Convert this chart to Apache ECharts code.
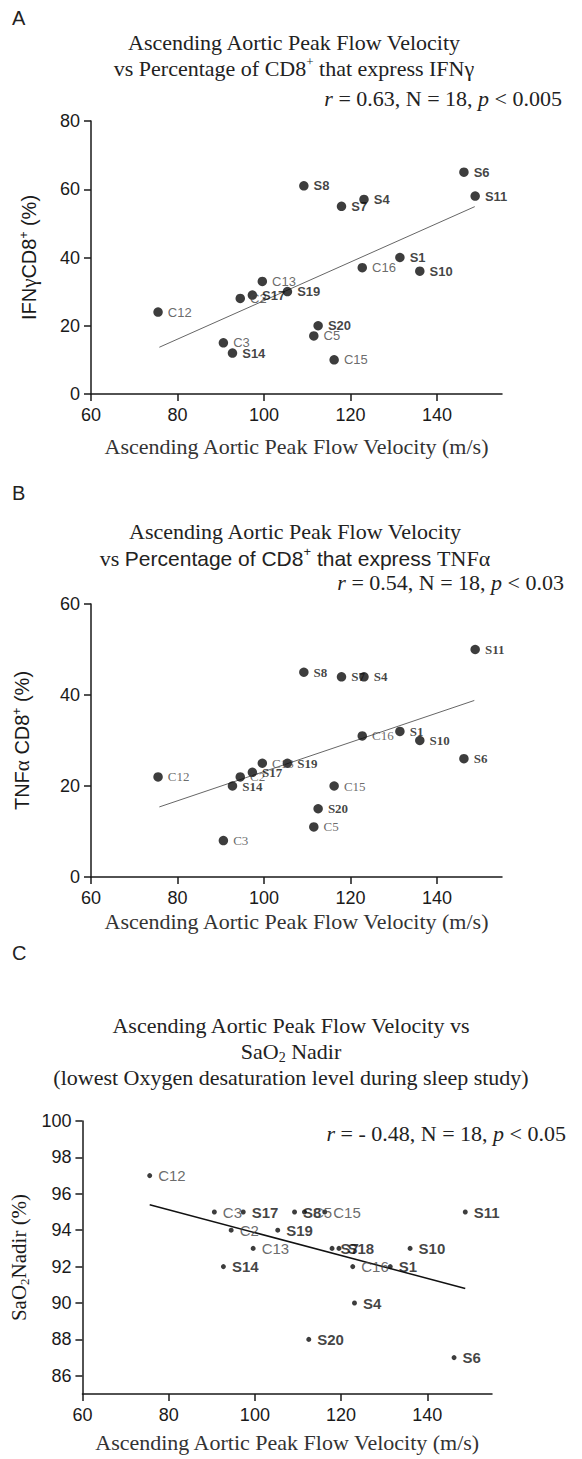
<!DOCTYPE html>
<html>
<head>
<meta charset="utf-8">
<script src="https://cdn.jsdelivr.net/npm/echarts@6/dist/echarts.min.js"></script>
<style>html,body{margin:0;padding:0;background:#fff}#c{width:582px;height:1459px}</style>
</head>
<body>
<div id="c"></div>
<script>
// ---- data ----
const namesAB = ['C12','C3','S14','C2','S17','C13','S19','S8','C5','S20','C15','S7','S4','C16','S1','S10','S6','S11'];
const velAB   = [75.5, 90.6, 92.7, 94.5, 97.3, 99.6, 105.4, 109.2, 111.5, 112.5, 116.2, 117.9, 123.1, 122.7, 131.4, 136.0, 146.2, 148.8];
const ifng    = [24, 15, 12, 28, 29, 33, 30, 61, 17, 20, 10, 55, 57, 37, 40, 36, 65, 58];
const tnfa    = [22, 8, 20, 22, 23, 25, 25, 45, 11, 15, 20, 44, 44, 31, 32, 30, 26, 50];

const namesC = ['C12','C3','S17','C2','S19','C13','S14','S8','C5','C15','S7','S18','C16','S1','S10','S11','S4','S20','S6'];
const velC   = [75.6, 90.6, 97.3, 94.5, 105.3, 99.6, 92.7, 109.2, 111.5, 116.2, 117.9, 119.5, 122.7, 131.4, 136.0, 148.8, 123.1, 112.5, 146.2];
const sao2   = [97, 95, 95, 94, 94, 93, 92, 95, 95, 95, 93, 93, 92, 92, 93, 95, 90, 88, 87];

const fitA = [[75.8, 13.7], [148.7, 54.9]];
const fitB = [[75.8, 15.4], [148.6, 38.8]];
const fitC = [[75.6, 95.4], [148.8, 90.8]];

const xTicks  = [60, 80, 100, 120, 140];
const yTicksA = [0, 20, 40, 60, 80];
const yTicksB = [0, 20, 40, 60];
const yTicksC = [86, 88, 90, 92, 94, 96, 98, 100];

// ---- styles ----
const SANS = 'Liberation Sans, Arial, sans-serif';
const SERIF = 'Liberation Serif, Times New Roman, serif';
const INK = '#1a1a1a';

function pts(names, xs, ys) {
  return names.map((n, i) => ({
    name: n,
    value: [xs[i], ys[i]],
    label: {
      fontWeight: n[0] === 'S' ? 'bold' : 'normal',
      color: n[0] === 'S' ? '#111' : '#444'
    }
  }));
}

function xAxis(gi, gap) {
  return {
    gridIndex: gi, type: 'value', min: 60, max: 155,
    name: 'Ascending Aortic Peak Flow Velocity (m/s)',
    nameLocation: 'middle', nameGap: gap,
    nameTextStyle: { fontFamily: SERIF, fontSize: 22, color: '#333' },
    axisLine: { onZero: false, lineStyle: { color: INK, width: 1.5 } },
    axisTick: { customValues: xTicks, length: 7, lineStyle: { color: INK, width: 1.5 } },
    axisLabel: { customValues: xTicks, margin: 12, fontFamily: SANS, fontSize: 18, color: INK },
    splitLine: { show: false }
  };
}
function yAxis(gi, min, max, ticks, name, rich, gap, nfont) {
  return {
    gridIndex: gi, type: 'value', min: min, max: max,
    name: name, nameLocation: 'middle', nameGap: gap, nameRotate: 90,
    nameTextStyle: { fontFamily: nfont, fontSize: 20, color: INK, rich: rich },
    axisLine: { show: true, onZero: false, lineStyle: { color: INK, width: 1.5 } },
    axisTick: { show: true, customValues: ticks, length: 7, lineStyle: { color: INK, width: 1.5 } },
    axisLabel: { customValues: ticks, margin: 11, fontFamily: SANS, fontSize: 18, color: INK },
    splitLine: { show: false }
  };
}
function scatter(xi, data, size, font, fsize, dist) {
  return {
    type: 'scatter', xAxisIndex: xi, yAxisIndex: xi, data: data,
    symbolSize: size, itemStyle: { color: '#0d0d0d' },
    label: { show: true, position: 'right', distance: dist, formatter: '{b}', fontFamily: font, fontSize: fsize },
    z: 3
  };
}
function fit(xi, data, color, width) {
  return {
    type: 'line', xAxisIndex: xi, yAxisIndex: xi, data: data,
    symbol: 'none', lineStyle: { color: color, width: width }, silent: true, z: 2
  };
}

const T = 22;   // serif title size
const supR = { fontFamily: SERIF, fontSize: 13, verticalAlign: 'top', lineHeight: 26 };

function txt(x, y, text, font, size, rich, align) {
  return {
    type: 'text', x: x, y: y,
    style: { text: text, fontFamily: font, fontSize: size, fill: '#222', align: align || 'center', verticalAlign: 'middle', rich: rich || {} }
  };
}

const statRich = (sz) => ({
  i: { fontFamily: SERIF, fontSize: sz, fontStyle: 'italic', fill: '#222' },
  n: { fontFamily: SERIF, fontSize: sz, fill: '#222' }
});

const option = {
  animation: false,
  grid: [
    { left: 91, top: 121, width: 411, height: 273 },
    { left: 91, top: 604, width: 411, height: 273 },
    { left: 82, top: 1121, width: 410, height: 273 }
  ],
  xAxis: [xAxis(0, 41), xAxis(1, 33), xAxis(2, 37)],
  yAxis: [
    yAxis(0, 0, 80, yTicksA, 'IFN{g|γ}CD8{s|+} (%)',
      { g: { fontFamily: SERIF, fontSize: 21 }, s: { fontSize: 12, verticalAlign: 'top', lineHeight: 22 } }, 51, SANS),
    yAxis(1, 0, 60, yTicksB, 'TNF{g|α} CD8{s|+} (%)',
      { g: { fontFamily: SERIF, fontSize: 21 }, s: { fontSize: 12, verticalAlign: 'top', lineHeight: 22 } }, 58, SANS),
    yAxis(2, 85, 100, yTicksC, '{t|SaO}{b|2}{t|Nadir (%)}',
      { t: { fontFamily: SERIF, fontSize: 21, lineHeight: 24 }, b: { fontFamily: SERIF, fontSize: 13, verticalAlign: 'bottom', lineHeight: 24 } }, 43, SERIF)
  ],
  series: [
    fit(0, fitA, '#666', 1),
    scatter(0, pts(namesAB, velAB, ifng), 9.5, SANS, 13, 5),
    fit(1, fitB, '#666', 1),
    scatter(1, pts(namesAB, velAB, tnfa), 9.5, SERIF, 13, 5),
    fit(2, fitC, '#111', 1.5),
    scatter(2, pts(namesC, velC, sao2), 5, SANS, 15, 6)
  ],
  graphic: [
    txt(12, 18, 'A', SANS, 20, null, 'left'),
    txt(294, 42, 'Ascending Aortic Peak Flow Velocity', SERIF, T),
    txt(294, 68, 'vs Percentage of CD8{s|+} that express IFNγ', SERIF, T, { s: supR }),
    txt(562, 98, '{i|r}{n| = 0.63, N = 18, }{i|p}{n| < 0.005}', SERIF, T, statRich(T), 'right'),

    txt(12, 493, 'B', SANS, 20, null, 'left'),
    txt(295, 531, 'Ascending Aortic Peak Flow Velocity', SERIF, T),
    txt(295, 558, '{r|vs }{a|Percentage of CD8}{s|+}{a| that express }{r|TNFα}', SERIF, T,
      { r: { fontFamily: SERIF, fontSize: T, lineHeight: 26 }, a: { fontFamily: SANS, fontSize: 21, lineHeight: 26 }, s: { fontFamily: SANS, fontSize: 13, verticalAlign: 'top', lineHeight: 26 } }),
    txt(564, 582, '{i|r}{n| = 0.54, N = 18, }{i|p}{n| < 0.03}', SERIF, T, statRich(T), 'right'),

    txt(12, 953, 'C', SANS, 20, null, 'left'),
    txt(291, 1025, 'Ascending Aortic Peak Flow Velocity vs', SERIF, T),
    txt(291, 1051, '{t|SaO}{b|2}{t| Nadir}', SERIF, T,
      { t: { fontFamily: SERIF, fontSize: T, lineHeight: 26 }, b: { fontFamily: SERIF, fontSize: 14, verticalAlign: 'bottom', lineHeight: 26 } }),
    txt(291, 1077, '(lowest Oxygen desaturation level during sleep study)', SERIF, T),
    txt(566, 1133, '{i|r}{n| = - 0.48, N = 18, }{i|p}{n| < 0.05}', SERIF, T, statRich(T), 'right')
  ]
};

const chart = echarts.init(document.getElementById('c'), null, { renderer: 'svg' });
chart.setOption(option);
</script>
</body>
</html>
